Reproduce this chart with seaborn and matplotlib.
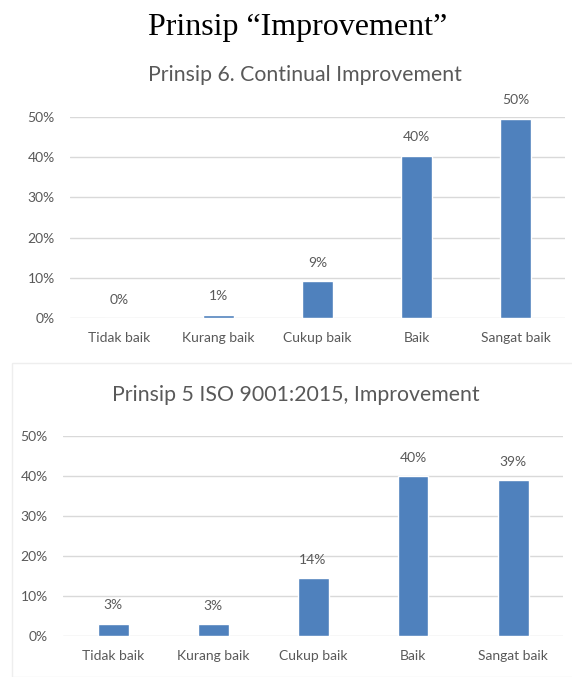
import matplotlib
matplotlib.use("Agg")
import matplotlib.pyplot as plt
import seaborn as sns
import pandas as pd
from matplotlib.patches import Rectangle

# --- dados ---
kategori = ["Tidak baik", "Kurang baik", "Cukup baik", "Baik", "Sangat baik"]
nilai_prinsip6 = [0, 0.8, 9.2, 40.4, 49.6]
label_prinsip6 = ["0%", "1%", "9%", "40%", "50%"]
nilai_iso = [3.1, 3.0, 14.4, 40.0, 39.0]
label_iso = ["3%", "3%", "14%", "40%", "39%"]
yticks = [0, 10, 20, 30, 40, 50]

judul_utama = "Prinsip \u201cImprovement\u201d"
judul_atas = "Prinsip 6. Continual Improvement"
judul_bawah = "Prinsip 5 ISO 9001:2015, Improvement"

BIRU = "#4F81BD"
ABU = "#595959"
GRID = "#D9D9D9"

sns.set_theme(style="white")
plt.rcParams["font.family"] = ["Lato", "DejaVu Sans"]

W, H = 572, 677
fig = plt.figure(figsize=(W / 100, H / 100), dpi=100)


def px_axes(x0, y_top, x1, y_bot):
    return fig.add_axes([x0 / W, 1 - y_bot / H, (x1 - x0) / W, (y_bot - y_top) / H])


def gambar(ax, nilai, label):
    df = pd.DataFrame({"kategori": kategori, "nilai": nilai})
    sns.barplot(data=df, x="kategori", y="nilai", color=BIRU, saturation=1,
                width=0.31, ax=ax, zorder=3)
    ax.set_ylim(0, 50)
    ax.set_xlim(-0.5, 4.5)
    ax.set_yticks(yticks)
    ax.set_yticklabels([f"{t}%" for t in yticks])
    ax.yaxis.grid(True, color=GRID, linewidth=1)
    ax.set_axisbelow(True)
    for s in ax.spines.values():
        s.set_visible(False)
    ax.tick_params(axis="both", length=0, colors=ABU, labelsize=10)
    ax.tick_params(axis="y", pad=11)
    ax.tick_params(axis="x", pad=10)
    ax.set_xlabel("")
    ax.set_ylabel("")
    for i, (v, t) in enumerate(zip(nilai, label)):
        ax.annotate(t, (i, v), xytext=(0, 9), textcoords="offset points",
                    ha="center", va="bottom", fontsize=10, color=ABU)


ax1 = px_axes(70, 117, 565, 318)
gambar(ax1, nilai_prinsip6, label_prinsip6)

ax2 = px_axes(63, 436, 563, 636)
gambar(ax2, nilai_iso, label_iso)

fig.text(305 / W, 1 - 75 / H, judul_atas, ha="center", va="center",
         fontsize=15.3, color=ABU)
fig.text(296 / W, 1 - 395 / H, judul_bawah, ha="center", va="center",
         fontsize=15.3, color=ABU)

# bingkai tipis chart bawah
fig.patches.append(Rectangle((12 / W, 0), 1, 1 - 363 / H, transform=fig.transFigure,
                             fill=False, edgecolor="#EEEEEE", linewidth=1))

fig.text(298 / W, 1 - 27 / H, judul_utama, ha="center", va="center",
         fontsize=23, family=["Liberation Serif"], color="black")

fig.savefig("out.png", dpi=100)
